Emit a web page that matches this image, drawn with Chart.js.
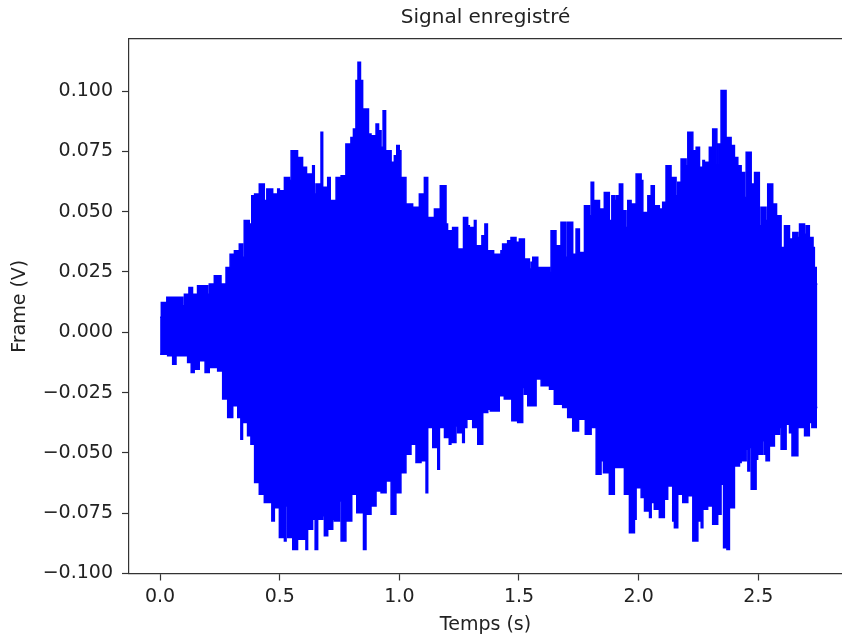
<!DOCTYPE html>
<html lang="fr">
<head>
<meta charset="utf-8">
<title>Signal enregistré</title>
<script src="https://cdn.jsdelivr.net/npm/chart.js@4.4.1/dist/chart.umd.min.js"></script>
<style>
  html, body { margin: 0; padding: 0; background: #fff; }
</style>
</head>
<body>
<canvas id="myChart" width="842" height="637"></canvas>
<script>
// enveloppe haute du signal (temps en s, tension en V)
const upperTime = [
  0.000, 0.010, 0.021, 0.035, 0.091, 0.098, 0.105, 0.118, 0.123, 0.132, 0.139, 0.153, 0.160, 0.195, 0.202, 0.209,
  0.223, 0.230, 0.251, 0.258, 0.272, 0.279, 0.290, 0.295, 0.307, 0.314, 0.323, 0.328, 0.334, 0.341, 0.348, 0.355,
  0.369, 0.376, 0.380, 0.386, 0.393, 0.397, 0.411, 0.418, 0.432, 0.439,
  0.453, 0.467, 0.474, 0.488, 0.495, 0.502, 0.516, 0.523, 0.537, 0.544, 0.551, 0.571, 0.578, 0.592, 0.599, 0.609,
  0.615, 0.620, 0.634, 0.641, 0.648, 0.655, 0.669, 0.676, 0.683, 0.697, 0.704, 0.718, 0.732, 0.739, 0.753, 0.760,
  0.773, 0.780, 0.794, 0.801, 0.815, 0.822, 0.832, 0.843, 0.850, 0.864, 0.878, 0.885, 0.899, 0.906, 0.920,
  0.927, 0.937, 0.948, 0.962, 0.969, 0.976, 0.982, 0.996, 1.003, 1.010, 1.024, 1.031, 1.052, 1.059, 1.080, 1.087,
  1.101, 1.108, 1.115, 1.122, 1.143, 1.150, 1.164, 1.178, 1.192, 1.198, 1.205, 1.219, 1.226, 1.240, 1.247, 1.261,
  1.275, 1.282, 1.289, 1.296, 1.310, 1.317, 1.324, 1.338, 1.352, 1.363, 1.373, 1.387, 1.401,
  1.421, 1.428, 1.435, 1.449, 1.456, 1.463, 1.470, 1.484, 1.491, 1.498, 1.505, 1.519, 1.526, 1.540, 1.547, 1.554,
  1.561, 1.575, 1.582, 1.624, 1.631, 1.637, 1.651, 1.658, 1.672, 1.679, 1.693, 1.700, 1.707, 1.721, 1.728, 1.735,
  1.742, 1.749, 1.756, 1.770, 1.777, 1.791, 1.798, 1.805, 1.819, 1.833, 1.840, 1.853, 1.860, 1.874, 1.881,
  1.895, 1.902, 1.909, 1.916, 1.923, 1.930, 1.937, 1.944, 1.951, 1.958, 1.965, 1.972, 1.986, 1.993, 2.007, 2.014,
  2.021, 2.035, 2.042, 2.049, 2.056, 2.062, 2.069, 2.083, 2.090, 2.097, 2.104, 2.111, 2.118, 2.132, 2.139, 2.153,
  2.160, 2.167, 2.174, 2.181, 2.195, 2.202, 2.209, 2.223, 2.230, 2.237, 2.244, 2.251, 2.258, 2.265, 2.272, 2.278,
  2.292, 2.299, 2.306, 2.313, 2.324, 2.330, 2.334, 2.341, 2.348, 2.362,
  2.369, 2.383, 2.390, 2.397, 2.404, 2.411, 2.418, 2.425, 2.432, 2.439, 2.446, 2.453, 2.467, 2.474, 2.481, 2.488,
  2.501, 2.508, 2.515, 2.529, 2.536, 2.543, 2.557, 2.564, 2.574, 2.579, 2.585, 2.592, 2.599, 2.606, 2.613, 2.627,
  2.634, 2.641, 2.648, 2.662, 2.669, 2.676, 2.690, 2.697, 2.704, 2.710, 2.717, 2.727, 2.731, 2.738, 2.747
];
const upperValue = [
  0.0062, 0.0124, 0.0124, 0.0145, 0.0145, 0.0110, 0.0158, 0.0158, 0.0186, 0.0186, 0.0158, 0.0158, 0.0193, 0.0193, 0.0158, 0.0200,
  0.0200, 0.0234, 0.0234, 0.0200, 0.0200, 0.0269, 0.0269, 0.0324, 0.0324, 0.0338, 0.0338, 0.0283, 0.0366, 0.0366, 0.0311, 0.0463,
  0.0463, 0.0449, 0.0449, 0.0566, 0.0566, 0.0573, 0.0573, 0.0615, 0.0615, 0.0546,
  0.0594, 0.0594, 0.0573, 0.0573, 0.0594, 0.0587, 0.0587, 0.0642, 0.0642, 0.0629, 0.0753, 0.0753, 0.0725, 0.0725, 0.0684, 0.0684,
  0.0587, 0.0656, 0.0656, 0.0691, 0.0573, 0.0615, 0.0615, 0.0829, 0.0601, 0.0601, 0.0642, 0.0546, 0.0546, 0.0642, 0.0642, 0.0649,
  0.0649, 0.0781, 0.0781, 0.0808, 0.0843, 0.1044, 0.1120, 0.1044, 0.0926, 0.0926, 0.0822, 0.0815, 0.0815, 0.0864, 0.0836,
  0.0767, 0.0919, 0.0753, 0.0753, 0.0705, 0.0705, 0.0732, 0.0774, 0.0753, 0.0642, 0.0642, 0.0532, 0.0532, 0.0518, 0.0518, 0.0573,
  0.0573, 0.0642, 0.0642, 0.0476, 0.0476, 0.0511, 0.0511, 0.0608, 0.0608, 0.0449, 0.0421, 0.0421, 0.0435, 0.0435, 0.0345, 0.0345,
  0.0476, 0.0476, 0.0442, 0.0435, 0.0435, 0.0463, 0.0359, 0.0359, 0.0400, 0.0449, 0.0338, 0.0338, 0.0324,
  0.0324, 0.0338, 0.0366, 0.0366, 0.0380, 0.0380, 0.0393, 0.0393, 0.0373, 0.0373, 0.0387, 0.0387, 0.0304, 0.0304, 0.0262, 0.0290,
  0.0311, 0.0311, 0.0269, 0.0269, 0.0248, 0.0421, 0.0421, 0.0359, 0.0359, 0.0456, 0.0456, 0.0311, 0.0456, 0.0456, 0.0324, 0.0324,
  0.0428, 0.0428, 0.0331, 0.0331, 0.0525, 0.0525, 0.0483, 0.0622, 0.0546, 0.0546, 0.0511, 0.0511, 0.0580, 0.0580, 0.0463,
  0.0566, 0.0546, 0.0566, 0.0566, 0.0615, 0.0615, 0.0504, 0.0504, 0.0435, 0.0546, 0.0546, 0.0532, 0.0532, 0.0656, 0.0656, 0.0629,
  0.0497, 0.0497, 0.0566, 0.0566, 0.0608, 0.0608, 0.0525, 0.0525, 0.0511, 0.0511, 0.0539, 0.0539, 0.0691, 0.0691, 0.0642, 0.0642,
  0.0566, 0.0622, 0.0622, 0.0719, 0.0719, 0.0691, 0.0829, 0.0829, 0.0753, 0.0753, 0.0767, 0.0767, 0.0684, 0.0684, 0.0712, 0.0705,
  0.0705, 0.0767, 0.0767, 0.0843, 0.0843, 0.0698, 0.0781, 0.0781, 0.1002, 0.1002,
  0.0808, 0.0808, 0.0774, 0.0774, 0.0725, 0.0725, 0.0691, 0.0691, 0.0663, 0.0663, 0.0559, 0.0746, 0.0746, 0.0615, 0.0615, 0.0663,
  0.0663, 0.0442, 0.0518, 0.0518, 0.0463, 0.0615, 0.0615, 0.0532, 0.0532, 0.0414, 0.0483, 0.0483, 0.0352, 0.0352, 0.0442, 0.0442,
  0.0387, 0.0387, 0.0414, 0.0414, 0.0393, 0.0449, 0.0449, 0.0407, 0.0442, 0.0442, 0.0393, 0.0393, 0.0352, 0.0269, 0.0200
];

// enveloppe basse du signal
const lowerTime = [
  0.000, 0.028, 0.035, 0.049, 0.056, 0.063, 0.070, 0.112, 0.118, 0.128, 0.132, 0.139, 0.146, 0.160, 0.167, 0.181,
  0.195, 0.202, 0.209, 0.237, 0.244, 0.258, 0.265, 0.279, 0.286, 0.300, 0.307, 0.321, 0.328, 0.334, 0.341, 0.348,
  0.362, 0.369, 0.376, 0.383, 0.393, 0.397, 0.411, 0.418, 0.432, 0.439,
  0.460, 0.474, 0.481, 0.495, 0.502, 0.516, 0.523, 0.530, 0.537, 0.551, 0.558, 0.571, 0.578, 0.606, 0.613, 0.620,
  0.634, 0.641, 0.655, 0.662, 0.676, 0.683, 0.690, 0.697, 0.704, 0.718, 0.725, 0.732, 0.746, 0.753, 0.760, 0.773,
  0.780, 0.794, 0.808, 0.815, 0.829, 0.843, 0.857, 0.864, 0.878, 0.885, 0.899, 0.906, 0.920,
  0.927, 0.941, 0.948, 0.962, 0.969, 0.982, 0.989, 1.003, 1.010, 1.024, 1.031, 1.045, 1.052, 1.066, 1.073, 1.087,
  1.094, 1.108, 1.115, 1.122, 1.136, 1.143, 1.157, 1.164, 1.171, 1.185, 1.192, 1.205, 1.212, 1.219, 1.233, 1.240,
  1.247, 1.261, 1.268, 1.275, 1.289, 1.303, 1.310, 1.324, 1.331, 1.345, 1.352, 1.366, 1.373, 1.387, 1.401,
  1.414, 1.421, 1.435, 1.442, 1.463, 1.477, 1.491, 1.498, 1.512, 1.519, 1.526, 1.533, 1.540, 1.568, 1.575, 1.589,
  1.596, 1.624, 1.631, 1.644, 1.651, 1.679, 1.686, 1.700, 1.707, 1.721, 1.728, 1.742, 1.756, 1.770, 1.784, 1.798,
  1.805, 1.819, 1.826, 1.840, 1.846, 1.860, 1.874, 1.881,
  1.895, 1.902, 1.937, 1.944, 1.958, 1.965, 1.979, 1.986, 1.993, 2.007, 2.014, 2.021, 2.028, 2.042, 2.049, 2.056,
  2.062, 2.069, 2.083, 2.090, 2.104, 2.111, 2.118, 2.125, 2.139, 2.146, 2.153, 2.160, 2.167, 2.181, 2.188, 2.202,
  2.209, 2.223, 2.230, 2.244, 2.251, 2.258, 2.265, 2.272, 2.285, 2.292, 2.306, 2.313, 2.327, 2.334, 2.341, 2.348,
  2.362,
  2.376, 2.383, 2.397, 2.404, 2.418, 2.425, 2.432, 2.446, 2.453, 2.460, 2.467, 2.474, 2.488, 2.494, 2.501, 2.515,
  2.522, 2.529, 2.536, 2.543, 2.550, 2.564, 2.571, 2.585, 2.592, 2.599, 2.613, 2.620, 2.627, 2.634, 2.648, 2.662,
  2.669, 2.690, 2.697, 2.710, 2.717, 2.731, 2.738, 2.747
];
const lowerValue = [
  -0.0091, -0.0091, -0.0097, -0.0097, -0.0132, -0.0132, -0.0097, -0.0097, -0.0125, -0.0125, -0.0167, -0.0167, -0.0153, -0.0153, -0.0118, -0.0118,
  -0.0167, -0.0167, -0.0146, -0.0146, -0.0160, -0.0160, -0.0277, -0.0277, -0.0353, -0.0353, -0.0305, -0.0305, -0.0353, -0.0353, -0.0443, -0.0374,
  -0.0374, -0.0429, -0.0429, -0.0464, -0.0464, -0.0623, -0.0623, -0.0671, -0.0671, -0.0706,
  -0.0706, -0.0782, -0.0727, -0.0727, -0.0851, -0.0851, -0.0865, -0.0720, -0.0851, -0.0851, -0.0900, -0.0900, -0.0858, -0.0858, -0.0900, -0.0817,
  -0.0817, -0.0775, -0.0900, -0.0775, -0.0775, -0.0761, -0.0844, -0.0844, -0.0817, -0.0817, -0.0775, -0.0782, -0.0782, -0.0699, -0.0865, -0.0865,
  -0.0782, -0.0782, -0.0671, -0.0671, -0.0748, -0.0748, -0.0900, -0.0754, -0.0754, -0.0720, -0.0720, -0.0658, -0.0658,
  -0.0665, -0.0665, -0.0616, -0.0616, -0.0754, -0.0754, -0.0665, -0.0665, -0.0582, -0.0582, -0.0506, -0.0506, -0.0464, -0.0464, -0.0540, -0.0540,
  -0.0533, -0.0533, -0.0665, -0.0395, -0.0395, -0.0478, -0.0478, -0.0568, -0.0395, -0.0395, -0.0436, -0.0436, -0.0464, -0.0457, -0.0457, -0.0388,
  -0.0416, -0.0416, -0.0457, -0.0395, -0.0360, -0.0360, -0.0395, -0.0395, -0.0464, -0.0464, -0.0333, -0.0333, -0.0319, -0.0326, -0.0326,
  -0.0326, -0.0263, -0.0263, -0.0277, -0.0277, -0.0367, -0.0367, -0.0374, -0.0374, -0.0229, -0.0257, -0.0257, -0.0305, -0.0305, -0.0194, -0.0194,
  -0.0222, -0.0222, -0.0236, -0.0236, -0.0298, -0.0298, -0.0312, -0.0312, -0.0353, -0.0353, -0.0409, -0.0409, -0.0360, -0.0360, -0.0423, -0.0423,
  -0.0395, -0.0395, -0.0589, -0.0589, -0.0533, -0.0582, -0.0582, -0.0671,
  -0.0671, -0.0561, -0.0561, -0.0671, -0.0671, -0.0831, -0.0831, -0.0775, -0.0644, -0.0644, -0.0685, -0.0685, -0.0741, -0.0741, -0.0768, -0.0706,
  -0.0706, -0.0734, -0.0734, -0.0768, -0.0768, -0.0692, -0.0692, -0.0637, -0.0637, -0.0782, -0.0810, -0.0810, -0.0671, -0.0671, -0.0706, -0.0706,
  -0.0678, -0.0678, -0.0865, -0.0865, -0.0782, -0.0782, -0.0810, -0.0734, -0.0734, -0.0720, -0.0720, -0.0796, -0.0796, -0.0754, -0.0754, -0.0630,
  -0.0893,
  -0.0900, -0.0727, -0.0727, -0.0554, -0.0554, -0.0540, -0.0533, -0.0533, -0.0485, -0.0575, -0.0478, -0.0651, -0.0651, -0.0526, -0.0506, -0.0506,
  -0.0450, -0.0506, -0.0533, -0.0533, -0.0471, -0.0471, -0.0423, -0.0423, -0.0395, -0.0485, -0.0485, -0.0381, -0.0381, -0.0416, -0.0512, -0.0512,
  -0.0395, -0.0395, -0.0429, -0.0429, -0.0374, -0.0395, -0.0395, -0.0312
];

const xTicks = [0, 0.5, 1, 1.5, 2, 2.5];
const yTicks = [-0.1, -0.075, -0.05, -0.025, 0, 0.025, 0.05, 0.075, 0.1];

const blue = "#0000ff";
const textColor = "#222222";
const axisColor = "#333333";
const fontFamily = "'DejaVu Sans', sans-serif";

const toPoints = (times, values) => times.map((t, i) => ({ x: t, y: values[i] }));

const ctx = document.getElementById("myChart");
new Chart(ctx, {
  type: "line",
  data: {
    datasets: [
      {
        label: "haut",
        data: toPoints(upperTime, upperValue),
        borderColor: blue,
        backgroundColor: blue,
        borderWidth: 1.5,
        pointRadius: 0,
        stepped: "middle",
        fill: false,
      },
      {
        label: "bas",
        data: toPoints(lowerTime, lowerValue),
        borderColor: blue,
        backgroundColor: blue,
        borderWidth: 1.5,
        pointRadius: 0,
        stepped: "middle",
        fill: "-1",
      },
    ],
  },
  options: {
    responsive: false,
    animation: false,
    layout: { padding: 0 },
    plugins: {
      legend: { display: false },
      tooltip: { enabled: false },
    },
    scales: {
      x: {
        type: "linear",
        position: "bottom",
        min: -0.13,
        max: 2.85,
        afterBuildTicks: (s) => { s.ticks = xTicks.map((v) => ({ value: v })); },
        afterFit: (s) => { s.height = 63.5; },
        grid: { drawOnChartArea: false, tickLength: 7, tickColor: axisColor, tickWidth: 1.2 },
        border: { color: axisColor, width: 1.2 },
        ticks: {
          autoSkip: false,
          maxRotation: 0,
          padding: 5,
          color: textColor,
          font: { family: fontFamily, size: 19 },
          callback: (v) => v.toFixed(1),
        },
        title: {
          display: true,
          text: "Temps (s)",
          color: textColor,
          font: { family: fontFamily, size: 19 },
          padding: { top: 0, bottom: 1 },
        },
      },
      top: {
        type: "linear",
        position: "top",
        min: -0.13,
        max: 2.85,
        afterFit: (s) => { s.height = 39; },
        grid: { drawOnChartArea: false, drawTicks: false },
        border: { color: axisColor, width: 1.2 },
        ticks: { display: false },
        title: {
          display: true,
          text: "Signal enregistré",
          color: textColor,
          font: { family: fontFamily, size: 20 },
          padding: { top: 6, bottom: 0 },
        },
      },
      y: {
        type: "linear",
        min: -0.1,
        max: 0.1216,
        afterBuildTicks: (s) => { s.ticks = yTicks.map((v) => ({ value: v })); },
        afterFit: (s) => { s.width = 129; },
        grid: { drawOnChartArea: false, tickLength: 7, tickColor: axisColor, tickWidth: 1.2 },
        border: { color: axisColor, width: 1.2 },
        ticks: {
          autoSkip: false,
          padding: 9,
          color: textColor,
          font: { family: fontFamily, size: 19 },
          callback: (v) => (v < 0 ? "\u2212" : "") + Math.abs(v).toFixed(3),
        },
        title: {
          display: true,
          text: "Frame (V)",
          color: textColor,
          font: { family: fontFamily, size: 19 },
          padding: { top: 9, bottom: 0 },
        },
      },
    },
  },
});
</script>
</body>
</html>
